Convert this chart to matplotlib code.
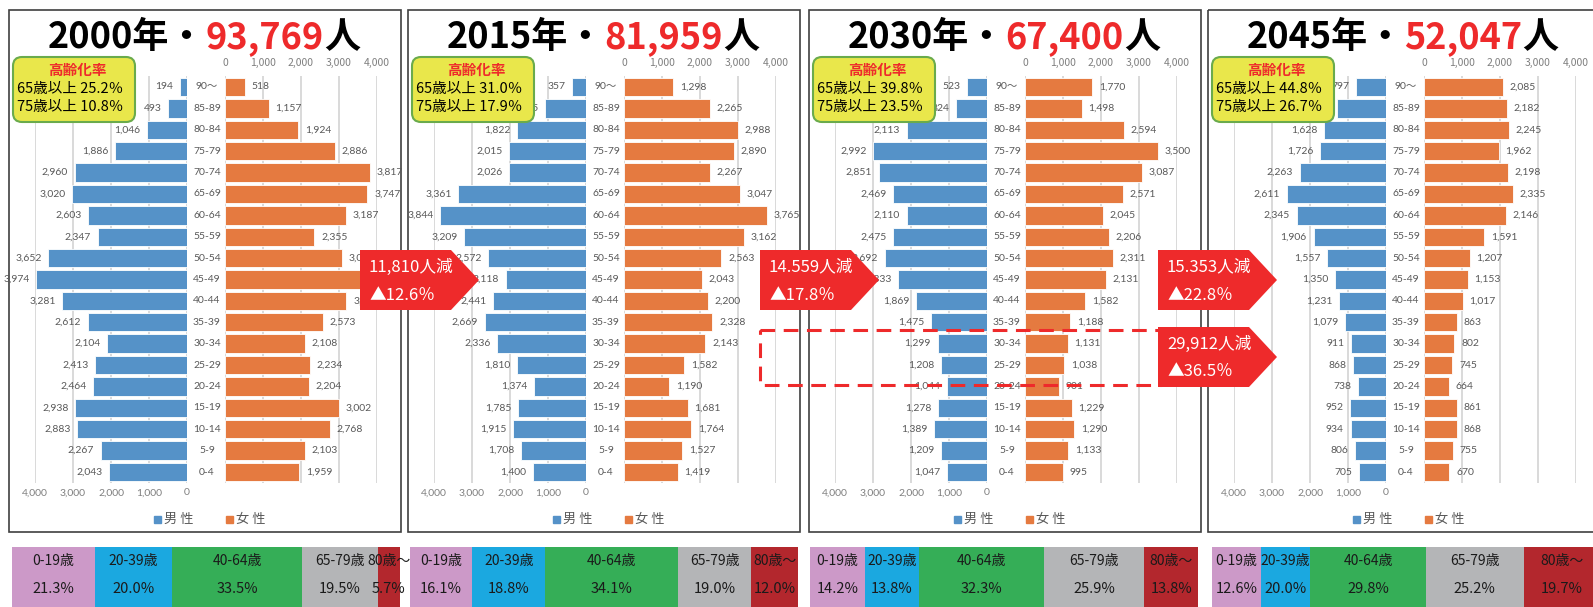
import matplotlib
matplotlib.use("Agg")
import matplotlib.pyplot as plt
from matplotlib.patches import Rectangle, FancyBboxPatch, Polygon
from matplotlib.ticker import FuncFormatter

# ---------------- data ----------------
ages = ["0-4", "5-9", "10-14", "15-19", "20-24", "25-29", "30-34", "35-39", "40-44",
        "45-49", "50-54", "55-59", "60-64", "65-69", "70-74", "75-79", "80-84", "85-89", "90〜"]

years = [2000, 2015, 2030, 2045]
totals = [93769, 81959, 67400, 52047]

male_2000 = [2043, 2267, 2883, 2938, 2464, 2413, 2104, 2612, 3281, 3974, 3652, 2347, 2603, 3020, 2960, 1886, 1046, 493, 194]
female_2000 = [1959, 2103, 2768, 3002, 2204, 2234, 2108, 2573, 3196, 3770, 3081, 2355, 3187, 3747, 3817, 2886, 1924, 1157, 518]
male_2015 = [1400, 1708, 1915, 1785, 1374, 1810, 2336, 2669, 2441, 2118, 2572, 3209, 3844, 3361, 2026, 2015, 1822, 1075, 357]
female_2015 = [1419, 1527, 1764, 1681, 1190, 1582, 2143, 2328, 2200, 2043, 2563, 3162, 3765, 3047, 2267, 2890, 2988, 2265, 1298]
male_2030 = [1047, 1209, 1389, 1278, 1044, 1208, 1299, 1475, 1869, 2333, 2692, 2475, 2110, 2469, 2851, 2992, 2113, 824, 523]
female_2030 = [995, 1133, 1290, 1229, 901, 1038, 1131, 1188, 1582, 2131, 2311, 2206, 2045, 2571, 3087, 3500, 2594, 1498, 1770]
male_2045 = [705, 806, 934, 952, 738, 868, 911, 1079, 1231, 1350, 1557, 1906, 2345, 2611, 2263, 1726, 1628, 1291, 797]
female_2045 = [670, 755, 868, 861, 664, 745, 802, 863, 1017, 1153, 1207, 1591, 2146, 2335, 2198, 1962, 2245, 2182, 2085]

aging_65 = ["25.2％", "31.0％", "39.8％", "44.8％"]
aging_75 = ["10.8％", "17.9％", "23.5％", "26.7％"]

callout_line1 = ["11,810人減", "14.559人減", "15.353人減", "29,912人減"]
callout_line2 = ["▲12.6％", "▲17.8％", "▲22.8％", "▲36.5％"]

strip_labels = ["0-19歳", "20-39歳", "40-64歳", "65-79歳", "80歳〜"]
share_2000 = [21.3, 20.0, 33.5, 19.5, 5.7]
share_2015 = [16.1, 18.8, 34.1, 19.0, 12.0]
share_2030 = [14.2, 13.8, 32.3, 25.9, 13.8]
share_2045 = [12.6, 12.7, 29.8, 25.2, 19.7]
share_text_2000 = ["21.3%", "20.0%", "33.5%", "19.5%", "5.7%"]
share_text_2015 = ["16.1%", "18.8%", "34.1%", "19.0%", "12.0%"]
share_text_2030 = ["14.2%", "13.8%", "32.3%", "25.9%", "13.8%"]
share_text_2045 = ["12.6%", "20.0%", "29.8%", "25.2%", "19.7%"]

males = [male_2000, male_2015, male_2030, male_2045]
females = [female_2000, female_2015, female_2030, female_2045]
shares = [share_2000, share_2015, share_2030, share_2045]
share_texts = [share_text_2000, share_text_2015, share_text_2030, share_text_2045]

# ---------------- style ----------------
W, H = 1593, 607
BLUE = "#5592c8"
ORANGE = "#e57a40"
RED = "#ee2a2b"
GRID = "#d9d9d9"
LBL = "#595959"
TICK = "#7f7f7f"
CJK = "Noto Sans CJK JP"
NUM = ["Lato", "Noto Sans CJK JP", "DejaVu Sans"]
STRIP_COLORS = ["#cc99c8", "#1ba8e0", "#35ae57", "#b4b5b7", "#b3272d"]

plt.rcParams["font.family"] = [CJK, "DejaVu Sans"]

PANEL_X = [0, 399, 800, 1199]
STRIP_X = [12, 410, 810, 1212]
STRIP_W = 388

fig = plt.figure(figsize=(W / 100, H / 100), dpi=100)
fig.patch.set_facecolor("white")

bg = fig.add_axes([0, 0, 1, 1], zorder=0)
bg.set_xlim(0, W); bg.set_ylim(H, 0); bg.axis("off")
fg = fig.add_axes([0, 0, 1, 1], zorder=10)
fg.set_xlim(0, W); fg.set_ylim(H, 0); fg.axis("off")

fmt = FuncFormatter(lambda v, p: f"{int(round(v)):,}")
renderer = fig.canvas.get_renderer()

AX_TOP, AX_BOT = 76.3, 482.7


def style_axis(ax):
    for s in ax.spines.values():
        s.set_visible(False)
    ax.set_yticks([])
    ax.set_xticks([0, 1000, 2000, 3000, 4000])
    ax.xaxis.set_major_formatter(fmt)
    ax.grid(axis="x", color=GRID, lw=1.4)
    ax.set_axisbelow(True)
    ax.tick_params(axis="x", length=0, labelsize=7.5, labelcolor=TICK)
    for t in ax.get_xticklabels():
        t.set_fontfamily(NUM)
    ax.set_ylim(-0.5, len(ages) - 0.5)
    ax.patch.set_visible(False)


for k in range(4):
    dx = PANEL_X[k]
    # panel border
    bg.add_patch(Rectangle((dx + 9, 10), 392, 522, fill=False, ec="#404040", lw=1.2))

    pos_y = 1 - AX_BOT / H
    hgt = (AX_BOT - AX_TOP) / H
    mx = fig.add_axes([(dx + 35) / W, pos_y, 152 / W, hgt], zorder=2)
    fx = fig.add_axes([(dx + 225) / W, pos_y, 152 / W, hgt], zorder=2)
    mx.barh(range(len(ages)), males[k], height=0.86, color=BLUE, edgecolor="white", lw=0.6)
    fx.barh(range(len(ages)), females[k], height=0.86, color=ORANGE, edgecolor="white", lw=0.6)
    mx.set_xlim(4000, 0)
    fx.set_xlim(0, 4000)
    style_axis(mx)
    style_axis(fx)
    mx.tick_params(axis="x", pad=4)
    fx.xaxis.tick_top()
    fx.tick_params(axis="x", pad=6)

    for i, v in enumerate(males[k]):
        mx.annotate(f"{v:,}", xy=(v, i), xytext=(-4.8, 0), textcoords="offset points",
                    ha="right", va="center", fontsize=7.5, color=LBL, family=NUM)
    for i, v in enumerate(females[k]):
        fx.annotate(f"{v:,}", xy=(v, i), xytext=(4.8, 0), textcoords="offset points",
                    ha="left", va="center", fontsize=7.5, color=LBL, family=NUM)
        fx.annotate(ages[i], xy=(0, i), xytext=(-13, 0), textcoords="offset points",
                    ha="center", va="center", fontsize=7.5, color=LBL, family=NUM,
                    annotation_clip=False)

    # title with coloured number
    pieces = [(f"{years[k]}年・", "black"), (f"{totals[k]:,}", RED), ("人", "black")]
    texts = []
    for s, c in pieces:
        t = fg.text(0, 48, s, color=c, fontsize=26, fontweight="bold", family=[CJK],
                    ha="left", va="baseline")
        texts.append(t)
    widths = [t.get_window_extent(renderer=renderer).width for t in texts]
    x = dx + 204 - sum(widths) / 2
    for t, w in zip(texts, widths):
        t.set_x(x)
        x += w

    # aging rate box
    fg.add_patch(FancyBboxPatch((dx + 13, 57), 122, 65, boxstyle="round,pad=0,rounding_size=9",
                                fc="#e9e74b", ec="#6aab4c", lw=1.5, zorder=3))
    fg.text(dx + 77, 70, "高齢化率", color=RED, fontsize=10.5, fontweight="bold",
            ha="center", va="center", zorder=4)
    fg.text(dx + 17, 89, f"65歳以上 {aging_65[k]}", color="black", fontsize=10.5,
            ha="left", va="center", zorder=4)
    fg.text(dx + 17, 107, f"75歳以上 {aging_75[k]}", color="black", fontsize=10.5,
            ha="left", va="center", zorder=4)

    # legend
    bg.add_patch(Rectangle((dx + 154, 515.5), 7, 7, color=BLUE))
    bg.text(dx + 164, 519, "男 性", fontsize=9.5, color=LBL, ha="left", va="center")
    bg.add_patch(Rectangle((dx + 226, 515.5), 7, 7, color=ORANGE))
    bg.text(dx + 236, 519, "女 性", fontsize=9.5, color=LBL, ha="left", va="center")

    # bottom share strip
    sx = fig.add_axes([STRIP_X[k] / W, 0, STRIP_W / W, (H - 547) / H], zorder=1)
    left = 0
    for j, (v, c) in enumerate(zip(shares[k], STRIP_COLORS)):
        sx.barh(0.5, v, left=left, height=1.0, color=c, lw=0)
        cx = left + v / 2
        sx.text(cx, 0.77, strip_labels[j], ha="center", va="center", fontsize=10, color="#1a1a1a")
        sx.text(cx, 0.30, share_texts[k][j], ha="center", va="center", fontsize=10.5, color="#1a1a1a")
        left += v
    sx.set_xlim(0, 100)
    sx.set_ylim(0, 1)
    sx.axis("off")

# dashed highlight rectangle
fg.add_patch(Rectangle((760, 330), 400, 55, fill=False, ec=RED, lw=2.2,
                       ls=(0, (4.8, 2.8)), zorder=5))

# callouts
CALLOUT_POS = [(360, 250), (760, 250), (1158, 250), (1158, 327)]
for (x0, y0), t1, t2 in zip(CALLOUT_POS, callout_line1, callout_line2):
    poly = Polygon([(x0, y0), (x0 + 91, y0), (x0 + 119, y0 + 30), (x0 + 91, y0 + 60), (x0, y0 + 60)],
                   closed=True, fc=RED, ec="none", zorder=6)
    fg.add_patch(poly)
    fg.text(x0 + 9, y0 + 17, t1, color="white", fontsize=12, ha="left", va="center", zorder=7)
    fg.text(x0 + 9, y0 + 45, t2, color="white", fontsize=12, ha="left", va="center", zorder=7)

fig.savefig("out.png", dpi=100)
